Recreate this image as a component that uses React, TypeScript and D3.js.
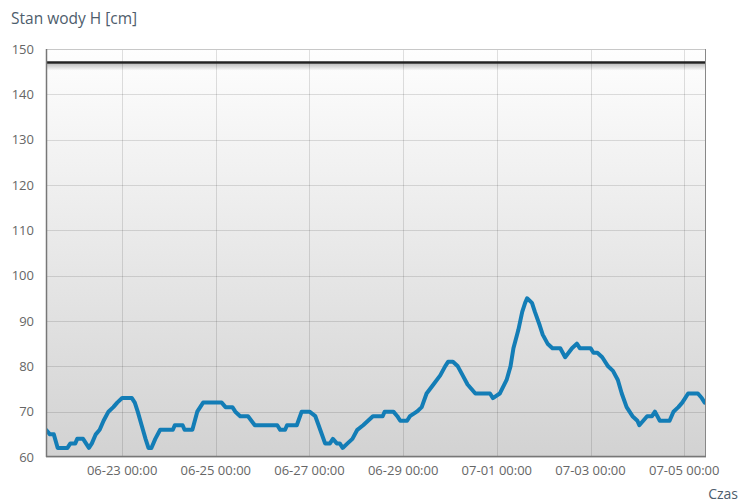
import React from "react";
import * as d3 from "d3";

const times: string[] = [
  "2025-06-21T09:00","2025-06-21T11:00","2025-06-21T13:00","2025-06-21T15:00","2025-06-21T20:00","2025-06-21T21:30",
  "2025-06-22T00:00","2025-06-22T01:00","2025-06-22T04:00","2025-06-22T05:30","2025-06-22T07:00","2025-06-22T08:30",
  "2025-06-22T10:30","2025-06-22T12:30","2025-06-22T14:30","2025-06-22T17:00","2025-06-22T19:30","2025-06-22T21:30",
  "2025-06-23T00:00","2025-06-23T05:00","2025-06-23T06:30","2025-06-23T08:00","2025-06-23T10:00","2025-06-23T12:00",
  "2025-06-23T13:30","2025-06-23T15:00","2025-06-23T17:00","2025-06-23T19:30","2025-06-23T21:00",
  "2025-06-24T02:00","2025-06-24T03:00","2025-06-24T07:00","2025-06-24T08:00","2025-06-24T12:00","2025-06-24T14:30","2025-06-24T17:30",
  "2025-06-25T03:00","2025-06-25T05:00","2025-06-25T08:30","2025-06-25T10:00","2025-06-25T12:30","2025-06-25T16:30","2025-06-25T20:00",
  "2025-06-26T07:30","2025-06-26T09:00","2025-06-26T11:30","2025-06-26T12:30","2025-06-26T17:30","2025-06-26T20:00",
  "2025-06-27T00:00","2025-06-27T03:00","2025-06-27T05:30","2025-06-27T08:00","2025-06-27T10:30","2025-06-27T12:00",
  "2025-06-27T14:00","2025-06-27T15:30","2025-06-27T17:00","2025-06-27T19:30","2025-06-27T22:00",
  "2025-06-28T00:30","2025-06-28T03:30","2025-06-28T06:00","2025-06-28T08:30","2025-06-28T13:30","2025-06-28T14:30",
  "2025-06-28T19:00","2025-06-28T21:00","2025-06-28T22:30",
  "2025-06-29T02:00","2025-06-29T03:30","2025-06-29T07:00","2025-06-29T09:30","2025-06-29T12:00","2025-06-29T15:30",
  "2025-06-29T19:00","2025-06-29T21:30","2025-06-29T23:00",
  "2025-06-30T01:30","2025-06-30T04:00","2025-06-30T06:30","2025-06-30T09:00","2025-06-30T13:00","2025-06-30T20:30","2025-06-30T22:00",
  "2025-07-01T01:30","2025-07-01T05:00","2025-07-01T07:00","2025-07-01T08:30","2025-07-01T11:00","2025-07-01T13:00",
  "2025-07-01T14:30","2025-07-01T15:30","2025-07-01T18:00","2025-07-01T19:30","2025-07-01T22:00","2025-07-01T23:30",
  "2025-07-02T02:00","2025-07-02T04:30","2025-07-02T08:30","2025-07-02T11:00","2025-07-02T14:30","2025-07-02T17:00","2025-07-02T18:30",
  "2025-07-03T00:00","2025-07-03T01:30","2025-07-03T03:30","2025-07-03T06:00","2025-07-03T09:00","2025-07-03T11:30",
  "2025-07-03T14:00","2025-07-03T16:00","2025-07-03T18:30","2025-07-03T21:30",
  "2025-07-04T00:00","2025-07-04T01:00","2025-07-04T03:00","2025-07-04T05:00","2025-07-04T07:30","2025-07-04T09:00",
  "2025-07-04T11:30","2025-07-04T13:00","2025-07-04T16:30","2025-07-04T18:30","2025-07-04T21:00","2025-07-04T23:00",
  "2025-07-05T00:30","2025-07-05T02:00","2025-07-05T07:00","2025-07-05T09:00","2025-07-05T10:30",
];

const levels: number[] = [
  66,65,65,62,62,63,
  63,64,64,63,62,63,
  65,66,68,70,71,72,
  73,73,72,70,67,64,
  62,62,64,66,66,
  66,67,67,66,66,70,72,
  72,71,71,70,69,69,67,
  67,66,66,67,67,70,
  70,69,66,63,63,64,
  63,63,62,63,64,
  66,67,68,69,69,70,
  70,69,68,
  68,69,70,71,74,76,
  78,80,81,
  81,80,78,76,74,74,73,
  74,77,80,84,88,92,
  94,95,94,92,89,87,
  85,84,84,82,84,85,84,
  84,83,83,82,80,79,
  77,74,71,69,
  68,67,68,69,69,70,
  68,68,68,70,71,72,
  73,74,74,73,72,
];

const alarmLevel = 147;
const yTicks = [60, 70, 80, 90, 100, 110, 120, 130, 140, 150];
const xTicks = ["2025-06-23T00:00","2025-06-25T00:00","2025-06-27T00:00","2025-06-29T00:00","2025-07-01T00:00","2025-07-03T00:00","2025-07-05T00:00"];
const domainStart = "2025-06-21T09:00";
const domainEnd = "2025-07-05T11:10";

const W = 742, H = 502;
const L = 46, R = 706, T = 49, B = 457;
const font = "'Open Sans', 'Noto Sans', sans-serif";

export default function App() {
  const x = d3.scaleTime().domain([new Date(domainStart), new Date(domainEnd)]).range([L, R]);
  const y = d3.scaleLinear().domain([60, 150]).range([B, T]);
  const data = times.map((t, i) => ({ t: new Date(t), v: levels[i] }));
  const line = d3.line<{ t: Date; v: number }>().x(d => x(d.t)).y(d => y(d.v)).curve(d3.curveLinear);
  const fmt = d3.timeFormat("%m-%d %H:%M");
  const ay = y(alarmLevel);

  return (
    <svg width={W} height={H} style={{ position: "absolute", left: 0, top: 0, fontFamily: font }}>
      <defs>
        <linearGradient id="bg" x1="0" y1="0" x2="0" y2="1">
          <stop offset="0" stopColor="#fefefe" />
          <stop offset="1" stopColor="#d2d2d2" />
        </linearGradient>
        <linearGradient id="shadow" x1="0" y1="0" x2="0" y2="1">
          <stop offset="0" stopColor="#000" stopOpacity={0.25} />
          <stop offset="1" stopColor="#000" stopOpacity={0} />
        </linearGradient>
        <clipPath id="clip"><rect x={L} y={T} width={R - L} height={B - T} /></clipPath>
      </defs>
      <text x={11} y={24} fontSize={15.5} fill="#4e5d6c">Stan wody H [cm]</text>
      <rect x={L} y={T} width={R - L} height={B - T} fill="url(#bg)" />
      {yTicks.map(v => (
        <line key={"gy" + v} x1={L} x2={R} y1={Math.round(y(v)) + 0.5} y2={Math.round(y(v)) + 0.5} stroke="#000" strokeOpacity={0.12} />
      ))}
      {xTicks.map(t => (
        <line key={"gx" + t} x1={Math.round(x(new Date(t))) + 0.5} x2={Math.round(x(new Date(t))) + 0.5} y1={T} y2={B} stroke="#000" strokeOpacity={0.12} />
      ))}
      <rect x={L} y={ay + 1} width={R - L} height={7} fill="url(#shadow)" />
      <line x1={L} x2={R} y1={ay} y2={ay} stroke="#222" strokeWidth={2.5} />
      <g clipPath="url(#clip)">
        <path d={line(data) || ""} fill="none" stroke="#137db6" strokeWidth={4} strokeLinejoin="round" strokeLinecap="round" />
      </g>
      <line x1={L} x2={R} y1={T + 0.5} y2={T + 0.5} stroke="#c8c8c8" />
      <line x1={R - 0.5} x2={R - 0.5} y1={T} y2={B} stroke="#888" />
      <line x1={L + 0.5} x2={L + 0.5} y1={T} y2={B} stroke="#777" strokeWidth={1.5} />
      <line x1={L} x2={R} y1={B - 0.5} y2={B - 0.5} stroke="#777" strokeWidth={1.5} />
      {yTicks.map(v => (
        <text key={"ty" + v} x={34} y={y(v) + 4.5} fontSize={13} fill="#666" textAnchor="end">{v}</text>
      ))}
      {xTicks.map(t => (
        <text key={"tx" + t} x={x(new Date(t))} y={475} fontSize={13} fill="#666" textAnchor="middle">{fmt(new Date(t))}</text>
      ))}
      <text x={738} y={499} fontSize={14} fill="#4e5d6c" textAnchor="end">Czas</text>
    </svg>
  );
}
